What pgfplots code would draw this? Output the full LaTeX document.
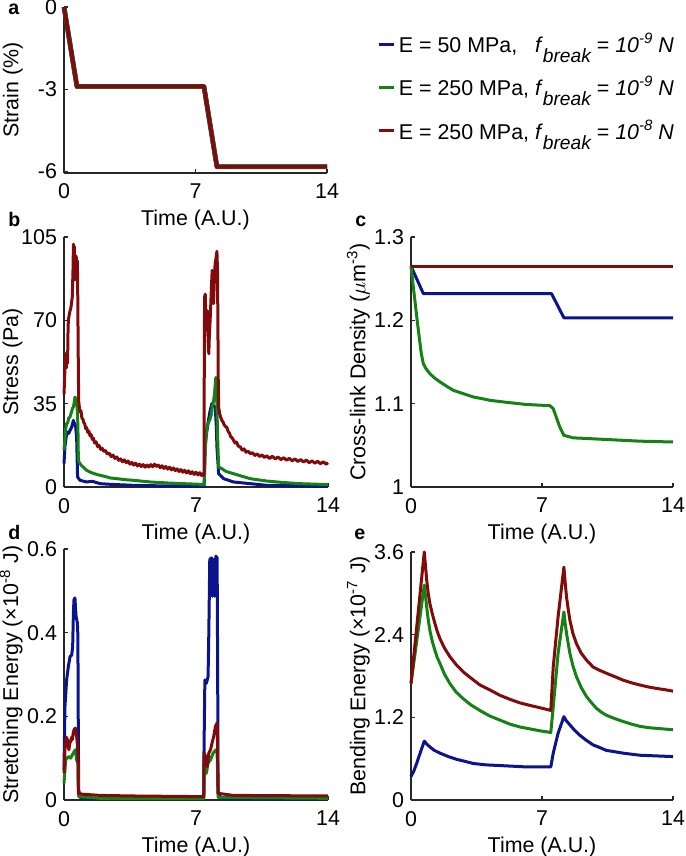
\documentclass[border=0pt]{standalone}
\usepackage{fontspec}
\setmainfont{Liberation Sans}
\usepackage{pgfplots}
\pgfplotsset{compat=1.18}

\definecolor{cblue}{RGB}{10,20,140}
\definecolor{cgreen}{RGB}{20,130,20}
\definecolor{cred}{RGB}{130,10,10}
\definecolor{axgray}{RGB}{38,38,38}

\pgfplotsset{
  panel/.style={
    scale only axis, clip=false,
    axis lines*=left,
    axis line style={axgray, line width=0.8pt},
    tick style={axgray, line width=0.8pt},
    tick align=inside,
    major tick length=2.2pt,
    xmin=0, xmax=14, xtick={0,7,14},
    /pgf/number format/assume math mode=true,
    font=\fontsize{10.7}{12.5}\selectfont,
    xticklabel style={yshift=-2pt},
    xlabel={Time (A.U.)},
    xlabel style={at={(axis description cs:0.5,0)}, anchor=north, yshift=-15pt},
    ylabel style={at={(axis description cs:-0.13,0.5)}, anchor=south},
    every axis plot/.append style={line width=1.5pt, line join=round},
  },
}

\newcommand{\fb}{\textit{f}\raisebox{-5pt}{\fontsize{9.6}{11}\selectfont\itshape break}}
\newcommand{\tenp}[1]{\textit{10}\raisebox{4.5pt}{\fontsize{7.5}{8}\selectfont\itshape #1}}

\begin{document}
\begin{tikzpicture}
\useasboundingbox (0,0) rectangle (342.5pt,428pt);

% panel a: strain
\begin{axis}[panel, at={(32pt,341.5pt)}, anchor=south west,
  width=131.5pt, height=83pt,
  ymin=-6.05, ymax=0, ytick={-6,-3,0}, yticklabels={-6,-3,0},
  ylabel={Strain (\%)},
  legend style={at={(1.19,0.515)}, anchor=west, draw=none, fill=none,
    inner sep=0pt, row sep=7pt, nodes={inner sep=1.75pt}},
  legend cell align=left,
  legend image code/.code={\draw[#1, line width=1.5pt] (0pt,0pt) -- (7.5pt,0pt);}]
\addplot[cblue, line width=2.4pt] coordinates {(0,0) (0.69,-2.9) (7.45,-2.9) (8.14,-5.82) (14,-5.82)};
\addplot[cgreen, line width=2.2pt] coordinates {(0,0) (0.69,-2.9) (7.45,-2.9) (8.14,-5.82) (14,-5.82)};
\addplot[cred, line width=1.9pt] coordinates {(0,0) (0.69,-2.9) (7.45,-2.9) (8.14,-5.82) (14,-5.82)};
\legend{{E = 50 MPa,\hphantom{2} \fb{} = \tenp{-9} \textit{N}},
        {E = 250 MPa, \fb{} = \tenp{-9} \textit{N}},
        {E = 250 MPa, \fb{} = \tenp{-8} \textit{N}}}
\end{axis}

% panel b: stress
\begin{axis}[panel, at={(32pt,184.5pt)}, anchor=south west,
  width=132pt, height=125pt,
  ymin=0, ymax=105, ytick={0,35,70,105},
  ylabel={Stress (Pa)}]
\addplot[cblue] coordinates {
(0,9.8) (0.05,17) (0.14,22.4) (0.2,23) (0.25,22.5) (0.32,23.8) (0.4,25) (0.5,28) (0.53,27) (0.58,26.6)
(0.62,25) (0.67,21) (0.72,4.2) (0.85,2.8) (1.2,2.1) (1.5,2.4) (1.91,1.4) (2.5,1.1) (3.68,0.7) (5,0.5) (7.43,0.3)
(7.46,8) (7.49,16.8) (7.55,22) (7.66,28) (7.75,32) (7.84,35) (7.93,34) (8.02,33.6) (8.08,25) (8.11,16.8)
(8.2,5.6) (8.46,3.5) (8.99,2.1) (10.76,0.7) (14,0.3)};
\addplot[cgreen] coordinates {
(0,15.4) (0.05,20) (0.08,24) (0.14,26.6) (0.2,27) (0.25,29) (0.32,29.4) (0.38,31) (0.45,33) (0.5,33.6)
(0.55,36) (0.58,37.8) (0.62,37) (0.67,35.7) (0.72,30.8) (0.75,20) (0.76,11.2) (0.85,9.8) (0.95,8.8) (1.05,8.2)
(1.2,7) (1.4,6.2) (1.6,5.6) (1.91,4.9) (2.2,4.4) (2.44,3.8) (2.8,3.5) (3.2,3.1) (3.68,2.8) (4.2,2.4) (4.6,2.1)
(5.45,1.7) (6.3,1.4) (7.0,1.2) (7.43,1)
(7.46,10) (7.49,16.8) (7.52,20) (7.58,25) (7.65,27) (7.72,28) (7.8,30) (7.86,33.6) (7.93,36) (7.98,39)
(8.02,43) (8.05,46) (8.09,40) (8.11,33.6) (8.15,20) (8.2,8.4) (8.37,7.7) (8.6,6.5) (8.99,5.6) (9.4,4.6)
(9.88,3.5) (10.3,3) (10.76,2.5) (11.6,1.9) (12.5,1.4) (13.3,1.2) (14,1)};
\addplot[cred] coordinates {
(0,39) (0.03,45) (0.06,52) (0.09,56) (0.12,50) (0.15,54) (0.19,52) (0.21,64) (0.23,70) (0.27,72) (0.32,74)
(0.36,75) (0.41,78) (0.44,80) (0.46,86) (0.48,92) (0.50,102) (0.53,99) (0.55,101) (0.57,90) (0.58,87)
(0.61,94) (0.64,97) (0.67,95) (0.71,95) (0.73,80) (0.74,70) (0.76,50) (0.78,36)
(0.82,33) (0.86,31.5) (0.90,32) (0.95,29) (1.0,28.5) (1.05,27) (1.1,26.5) (1.15,24.5) (1.2,25) (1.26,23)
(1.32,23.5) (1.38,21.5) (1.44,22) (1.5,20) (1.56,20.5) (1.62,18.5) (1.7,19) (1.78,17) (1.86,17.5) (1.94,15.8)
(2.02,16.3) (2.1,15) (2.2,15.3) (2.3,13.8) (2.4,14.2) (2.5,12.8) (2.6,13.4) (2.7,12) (2.8,12.6) (2.9,11.2)
(3.0,11.8) (3.1,10.6) (3.2,11.4) (3.3,10.2) (3.4,10.9) (3.5,9.6) (3.6,10.3) (3.7,9.2) (3.8,10) (3.9,8.8)
(4.0,9.6) (4.1,8.6) (4.2,9.4) (4.3,8.3) (4.4,9.2) (4.5,8.4) (4.6,9.4) (4.7,8.5) (4.8,9.6) (4.9,8.6)
(5.0,9.2) (5.1,8.1) (5.2,8.9) (5.3,7.8) (5.4,8.6) (5.5,7.5) (5.6,8.3) (5.7,7.2) (5.8,8) (5.9,6.9)
(6.0,7.6) (6.1,6.5) (6.2,7.3) (6.3,6.2) (6.4,7) (6.5,5.9) (6.6,6.8) (6.7,5.6) (6.8,6.4) (6.9,5.3)
(7.0,6.2) (7.1,5.1) (7.2,6) (7.3,4.8) (7.38,5.6) (7.43,5)
(7.44,60) (7.46,80) (7.49,81) (7.52,72) (7.54,66) (7.57,70) (7.61,74) (7.64,62) (7.68,56) (7.71,64)
(7.75,70) (7.8,80) (7.84,88) (7.86,91) (7.9,84) (7.93,77) (7.97,86) (8.0,92) (8.02,94) (8.06,96)
(8.11,99) (8.14,91) (8.16,70) (8.18,45) (8.2,33.6)
(8.25,31) (8.3,29.5) (8.37,28) (8.44,27.2) (8.5,26) (8.57,25.4) (8.64,25) (8.7,23.4) (8.78,22.5) (8.85,21)
(8.92,20.6) (8.99,19.6) (9.07,18.5) (9.15,18.9) (9.24,17.2) (9.35,16.8) (9.45,15.5) (9.55,16) (9.65,14.6)
(9.75,15.1) (9.88,14) (10.0,14.4) (10.12,13.2) (10.25,13.9) (10.38,12.8) (10.5,13.5) (10.62,12.4)
(10.76,13.1) (10.9,12) (11.05,12.9) (11.2,11.8) (11.35,12.6) (11.5,11.5) (11.65,12.3) (11.8,11.3)
(11.95,12) (12.1,11) (12.25,11.8) (12.4,10.7) (12.55,11.5) (12.7,10.5) (12.85,11.3) (13.0,10.2)
(13.15,11) (13.3,10) (13.45,10.8) (13.6,9.8) (13.75,10.6) (13.9,9.6) (14,10.2)};
\end{axis}

% panel c: cross-link density
\begin{axis}[panel, at={(205.5pt,184.5pt)}, anchor=south west,
  width=131pt, height=125pt,
  ymin=1, ymax=1.3, ytick={1,1.1,1.2,1.3}, yticklabels={1,1.1,1.2,1.3},
  ylabel={Cross-link Density (\ensuremath{\mu}m\textsuperscript{-3})}]
\addplot[cblue] coordinates {(0,1.265) (0.66,1.232) (7.51,1.232) (8.17,1.203) (14,1.203)};
\addplot[cgreen] coordinates {
(0,1.265) (0.15,1.235) (0.35,1.196) (0.55,1.16) (0.66,1.148) (0.8,1.142) (1.01,1.136) (1.25,1.131)
(1.55,1.126) (1.9,1.121) (2.26,1.116) (2.8,1.112) (3.33,1.108) (3.8,1.106) (4.22,1.104) (5.11,1.1016)
(6.17,1.099) (7.42,1.0976) (7.6,1.094) (7.95,1.072) (8.17,1.062) (8.66,1.059) (10.44,1.057) (12.22,1.055) (14,1.054)};
\addplot[cred] coordinates {(0,1.265) (14,1.265)};
\end{axis}

% panel d: stretching energy
\begin{axis}[panel, at={(32pt,28pt)}, anchor=south west,
  width=132pt, height=125.5pt,
  ymin=0, ymax=0.6, ytick={0,0.2,0.4,0.6}, yticklabels={0,0.2,0.4,0.6},
  ylabel={Stretching Energy (×10\textsuperscript{-8} J)}]
\addplot[cblue] coordinates {
(0,0.072) (0.05,0.223) (0.14,0.287) (0.23,0.319) (0.32,0.343) (0.38,0.345) (0.41,0.347) (0.46,0.367)
(0.5,0.45) (0.53,0.479) (0.58,0.483) (0.61,0.46) (0.64,0.439) (0.71,0.423) (0.73,0.4) (0.74,0.351)
(0.76,0.15) (0.78,0.024) (0.85,0.006) (1.5,0.004) (7.41,0.003)
(7.42,0.1) (7.44,0.176) (7.47,0.287) (7.55,0.279) (7.64,0.295) (7.68,0.4) (7.73,0.575) (7.82,0.579)
(7.87,0.487) (7.94,0.575) (7.99,0.487) (8.05,0.583) (8.12,0.579) (8.15,0.3) (8.17,0.016) (8.35,0.004) (14,0.003)};
\addplot[cgreen] coordinates {
(0,0.040) (0.09,0.096) (0.23,0.104) (0.35,0.100) (0.49,0.112) (0.6,0.12) (0.67,0.096) (0.74,0.088)
(0.76,0.04) (0.78,0.008) (1.91,0.004) (7.41,0.003)
(7.43,0.05) (7.47,0.088) (7.55,0.064) (7.64,0.088) (7.77,0.096) (7.91,0.112) (8.05,0.120) (8.12,0.112)
(8.15,0.06) (8.17,0.006) (14,0.004)};
\addplot[cred] coordinates {
(0,0.064) (0.05,0.12) (0.09,0.136) (0.13,0.15) (0.18,0.144) (0.22,0.13) (0.26,0.120) (0.3,0.135)
(0.35,0.140) (0.4,0.15) (0.44,0.144) (0.49,0.16) (0.53,0.168) (0.6,0.172) (0.64,0.16) (0.67,0.152)
(0.72,0.128) (0.74,0.1) (0.76,0.016) (0.94,0.014) (1.91,0.011) (3.67,0.0096) (7.41,0.008)
(7.42,0.08) (7.44,0.112) (7.5,0.104) (7.59,0.080) (7.68,0.112) (7.77,0.120) (7.85,0.136) (7.94,0.152)
(8.03,0.176) (8.12,0.184) (8.14,0.15) (8.17,0.016) (8.97,0.011) (14,0.0096)};
\end{axis}

% panel e: bending energy
\begin{axis}[panel, at={(205.5pt,28pt)}, anchor=south west,
  width=131pt, height=124pt,
  ymin=0, ymax=3.6, ytick={0,1.2,2.4,3.6}, yticklabels={0,1.2,2.4,3.6},
  ylabel={Bending Energy (×10\textsuperscript{-7} J)}]
\addplot[cblue] coordinates {
(0,0.34) (0.15,0.42) (0.3,0.53) (0.5,0.69) (0.71,0.855) (0.85,0.81) (1.01,0.77) (1.25,0.72) (1.55,0.68)
(2.0,0.63) (2.44,0.59) (2.9,0.56) (3.33,0.53) (4.0,0.51) (4.75,0.50) (6.17,0.48) (7.47,0.48)
(7.6,0.68) (7.86,0.97) (8.17,1.21) (8.3,1.15) (8.49,1.09) (8.75,1.01) (9.02,0.94) (9.35,0.87) (9.73,0.80)
(10.1,0.76) (10.44,0.72) (10.9,0.70) (11.33,0.68) (12.22,0.65) (13.1,0.64) (14,0.63)};
\addplot[cgreen] coordinates {
(0,1.69) (0.71,3.12) (0.78,2.95) (0.84,2.80) (0.92,2.62) (1.01,2.46) (1.14,2.3) (1.28,2.17) (1.4,2.07)
(1.55,1.98) (1.8,1.82) (2.08,1.69) (2.4,1.57) (2.79,1.47) (3.2,1.38) (3.68,1.30) (4.2,1.22) (4.75,1.16)
(5.3,1.1) (5.82,1.06) (6.4,1.03) (6.88,1.005) (7.47,0.98)
(7.6,1.35) (7.86,2.13) (8.17,2.73) (8.24,2.56) (8.31,2.42) (8.4,2.27) (8.49,2.13) (8.65,1.95) (8.84,1.79)
(9.1,1.63) (9.38,1.50) (9.65,1.41) (9.91,1.33) (10.2,1.27) (10.44,1.23) (10.9,1.18) (11.33,1.14)
(11.8,1.10) (12.22,1.07) (12.7,1.05) (13.11,1.04) (14,1.02)};
\addplot[cred] coordinates {
(0,1.69) (0.71,3.6) (0.78,3.38) (0.84,3.19) (0.92,3.0) (1.01,2.85) (1.14,2.7) (1.28,2.56) (1.4,2.45)
(1.55,2.34) (1.8,2.2) (2.08,2.08) (2.4,1.97) (2.79,1.86) (3.2,1.77) (3.68,1.67) (4.2,1.6) (4.75,1.52)
(5.3,1.46) (5.82,1.41) (6.4,1.37) (6.88,1.34) (7.47,1.30)
(7.6,1.93) (7.86,2.66) (8.17,3.38) (8.24,3.15) (8.31,2.95) (8.4,2.77) (8.49,2.61) (8.65,2.42) (8.84,2.27)
(9.1,2.13) (9.38,2.03) (9.73,1.93) (10.1,1.88) (10.44,1.84) (10.9,1.79) (11.33,1.74) (11.8,1.70)
(12.22,1.67) (12.7,1.64) (13.11,1.62) (13.6,1.60) (14,1.58)};
\end{axis}

% panel letters
\begin{scope}[every node/.style={inner sep=0pt, anchor=base west, font=\fontsize{9.8}{11}\selectfont\bfseries}]
\node at (4pt,420.5pt) {a};
\node at (4pt,314.5pt) {b};
\node at (177.5pt,314.5pt) {c};
\node at (4pt,158pt) {d};
\node at (177pt,158pt) {e};
\end{scope}
\end{tikzpicture}
\end{document}
